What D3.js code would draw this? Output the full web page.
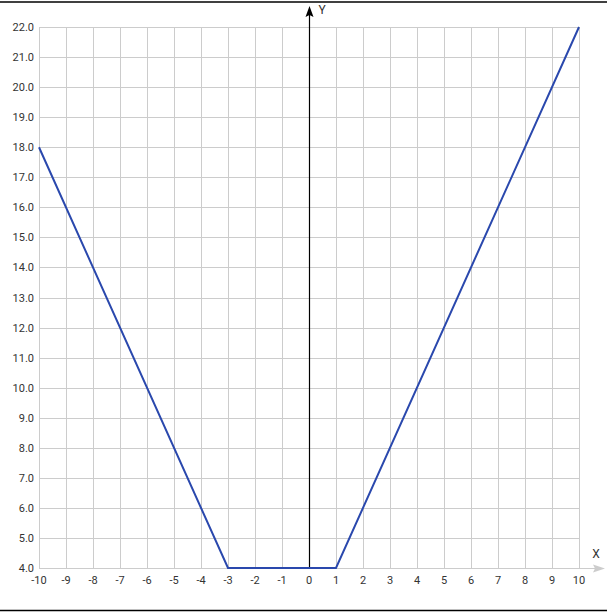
<!DOCTYPE html>
<html><head><meta charset="utf-8">
<script src="https://cdn.jsdelivr.net/npm/d3@7/dist/d3.min.js"></script>
<style>body{margin:0;background:#fff;}svg{display:block;font-family:Roboto,sans-serif;}</style>
</head><body>
<svg id="c" width="607" height="613"></svg>
<script>
const xTicks = [-10,-9,-8,-7,-6,-5,-4,-3,-2,-1,0,1,2,3,4,5,6,7,8,9,10];
const yTicks = [4,5,6,7,8,9,10,11,12,13,14,15,16,17,18,19,20,21,22];
const xValues = [-10,-3,1,10];
const yValues = [18,4,4,22];

const svg = d3.select('#c');
const x = d3.scaleLinear().domain([-10,10]).range([39,579]);
const y = d3.scaleLinear().domain([4,22]).range([568,27]);

// frame lines top & bottom
svg.append('line').attr('x1',0).attr('x2',607).attr('y1',2).attr('y2',2).attr('stroke','#000').attr('stroke-width',1.5);
svg.append('line').attr('x1',0).attr('x2',607).attr('y1',610.5).attr('y2',610.5).attr('stroke','#000').attr('stroke-width',1.5);

// grid
const g = svg.append('g');
g.selectAll('.vx').data(xTicks).join('line')
  .attr('x1',d=>Math.round(x(d))+0.5).attr('x2',d=>Math.round(x(d))+0.5)
  .attr('y1',y(22)).attr('y2',y(4)).attr('stroke','#cccccc').attr('stroke-width',1);
g.selectAll('.hy').data(yTicks).join('line')
  .attr('y1',d=>Math.round(y(d))+0.5).attr('y2',d=>Math.round(y(d))+0.5)
  .attr('x1',x(-10)).attr('x2',x(10)).attr('stroke','#cccccc').attr('stroke-width',1);

// x axis extension with arrow (gray)
const y0 = Math.round(y(4))+0.5;
svg.append('line').attr('x1',x(10)).attr('x2',600).attr('y1',y0).attr('y2',y0).attr('stroke','#cccccc');
svg.append('path').attr('d',`M605,${y0} L593,${y0-4} L595,${y0} L593,${y0+4} Z`).attr('fill','#cccccc');
svg.append('text').attr('x',596).attr('y',558).attr('text-anchor','middle').attr('font-size',12).attr('fill','#333').text('X');

// y axis (black) with arrow
const x0 = Math.round(x(0))+0.5;
svg.append('line').attr('x1',x0).attr('x2',x0).attr('y1',y(4)).attr('y2',12).attr('stroke','#000').attr('stroke-width',1.2);
svg.append('path').attr('d',`M${x0},6 L${x0-4},17 L${x0},15 L${x0+4},17 Z`).attr('fill','#000');
svg.append('text').attr('x',322).attr('y',14).attr('text-anchor','middle').attr('font-size',12).attr('fill','#333').text('Y');

// tick labels
svg.selectAll('.yl').data(yTicks).join('text')
  .attr('x',34).attr('y',d=>y(d)+4).attr('text-anchor','end').attr('font-size',11).attr('fill','#333')
  .text(d=>d3.format('.1f')(d));
svg.selectAll('.xl').data(xTicks).join('text')
  .attr('x',d=>x(d)).attr('y',584).attr('text-anchor','middle').attr('font-size',11).attr('fill','#333')
  .text(d=>d);

// series
const pts = xValues.map((v,i)=>[v,yValues[i]]);
svg.append('path').datum(pts)
  .attr('d',d3.line().x(d=>x(d[0])).y(d=>y(d[1])))
  .attr('fill','none').attr('stroke','#2a48ad').attr('stroke-width',2);
</script>
</body></html>
